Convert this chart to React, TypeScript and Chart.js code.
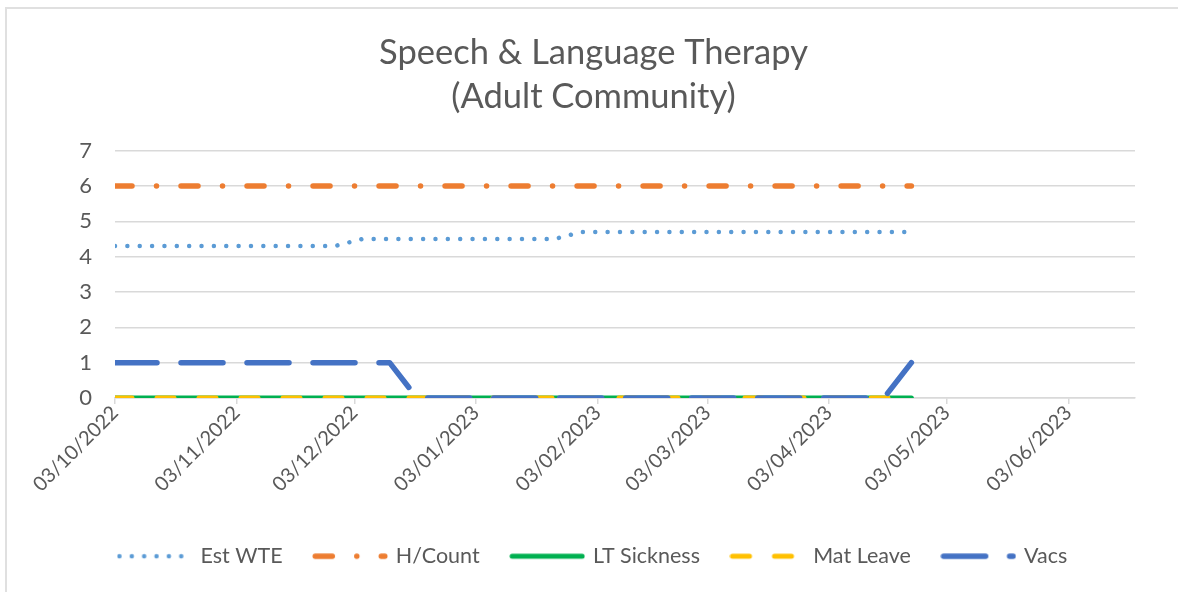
import React, { useEffect, useRef } from 'react';
import { Chart, registerables } from 'chart.js';

Chart.register(...registerables);

// ---- Data ----
const weekDates = [
  '2022-10-03', '2022-10-10', '2022-10-17', '2022-10-24', '2022-10-31',
  '2022-11-07', '2022-11-14', '2022-11-21', '2022-11-28', '2022-12-05',
  '2022-12-12', '2022-12-19', '2022-12-26', '2023-01-02', '2023-01-09',
  '2023-01-16', '2023-01-23', '2023-01-30', '2023-02-06', '2023-02-13',
  '2023-02-20', '2023-02-27', '2023-03-06', '2023-03-13', '2023-03-20',
  '2023-03-27', '2023-04-03', '2023-04-10', '2023-04-17', '2023-04-24',
];

const estWTE = [
  4.3, 4.3, 4.3, 4.3, 4.3, 4.3, 4.3, 4.3, 4.3, 4.5,
  4.5, 4.5, 4.5, 4.5, 4.5, 4.5, 4.5, 4.7, 4.7, 4.7,
  4.7, 4.7, 4.7, 4.7, 4.7, 4.7, 4.7, 4.7, 4.7, 4.7,
];
const hCount = [
  6, 6, 6, 6, 6, 6, 6, 6, 6, 6,
  6, 6, 6, 6, 6, 6, 6, 6, 6, 6,
  6, 6, 6, 6, 6, 6, 6, 6, 6, 6,
];
const ltSickness = [
  0, 0, 0, 0, 0, 0, 0, 0, 0, 0,
  0, 0, 0, 0, 0, 0, 0, 0, 0, 0,
  0, 0, 0, 0, 0, 0, 0, 0, 0, 0,
];
const matLeave = [
  0, 0, 0, 0, 0, 0, 0, 0, 0, 0,
  0, 0, 0, 0, 0, 0, 0, 0, 0, 0,
  0, 0, 0, 0, 0, 0, 0, 0, 0, 0,
];
const vacs = [
  1, 1, 1, 1, 1, 1, 1, 1, 1, 1,
  1, 0, 0, 0, 0, 0, 0, 0, 0, 0,
  0, 0, 0, 0, 0, 0, 0, 0, 0, 1,
];

const monthTickDates = [
  '2022-10-03', '2022-11-03', '2022-12-03', '2023-01-03', '2023-02-03',
  '2023-03-03', '2023-04-03', '2023-05-03', '2023-06-03',
];
const axisStartDate = '2022-10-03';
const axisEndDate = '2023-06-20';
const yMin = 0;
const yMax = 7;
const yStep = 1;

const titleLines = ['Speech & Language Therapy', '(Adult Community)'];

// ---- helpers ----
const DAY_MS = 86400000;
const dayIndex = (s: string) =>
  Math.round((Date.parse(s + 'T00:00:00Z') - Date.parse(axisStartDate + 'T00:00:00Z')) / DAY_MS);
const formatDate = (s: string) => {
  const [y, m, d] = s.split('-');
  return `${d}/${m}/${y}`;
};
const tickLabelByDay: Record<number, string> = {};
monthTickDates.forEach((s) => {
  tickLabelByDay[dayIndex(s)] = formatDate(s);
});

const FONT = 'Lato';
const TEXT_COLOR = '#595959';
const GRID_COLOR = '#D9D9D9';

type SeriesStyle = {
  label: string;
  data: number[];
  color: string;
  width: number;
  dash: number[];
  order: number;
};

const series: SeriesStyle[] = [
  { label: 'Est WTE', data: estWTE, color: '#5B9BD5', width: 4.5, dash: [0.01, 12.35], order: 5 },
  { label: 'H/Count', data: hCount, color: '#ED7D31', width: 5.5, dash: [17, 24.5, 0.01, 24.5], order: 4 },
  { label: 'LT Sickness', data: ltSickness, color: '#00B050', width: 5, dash: [], order: 3 },
  { label: 'Mat Leave', data: matLeave, color: '#FFC000', width: 5, dash: [17, 25], order: 2 },
  { label: 'Vacs', data: vacs, color: '#4472C4', width: 5.5, dash: [42, 24], order: 1 },
];

const SAMPLE_W = 76;
const SAMPLE_H = 10;
const BOX_W = 70;

function makeSample(s: SeriesStyle): HTMLCanvasElement {
  const c = document.createElement('canvas');
  c.width = SAMPLE_W;
  c.height = SAMPLE_H;
  const ctx = c.getContext('2d')!;
  ctx.strokeStyle = s.color;
  ctx.lineWidth = s.width;
  ctx.lineCap = 'round';
  ctx.setLineDash(s.dash);
  ctx.beginPath();
  ctx.moveTo(s.width / 2 + 0.5, SAMPLE_H / 2);
  ctx.lineTo(SAMPLE_W - s.width / 2 - 0.5, SAMPLE_H / 2);
  ctx.stroke();
  return c;
}

export default function App() {
  const canvasRef = useRef<HTMLCanvasElement | null>(null);

  useEffect(() => {
    const canvas = canvasRef.current;
    if (!canvas) return;
    const samples = series.map(makeSample);

    const chart = new Chart(canvas, {
      type: 'line',
      data: {
        datasets: series.map((s) => ({
          label: s.label,
          data: s.data.map((v, i) => ({ x: dayIndex(weekDates[i]), y: v })),
          borderColor: s.color,
          backgroundColor: s.color,
          borderWidth: s.width,
          borderDash: s.dash,
          borderCapStyle: 'round' as const,
          borderJoinStyle: 'round' as const,
          pointRadius: 0,
          pointHoverRadius: 0,
          tension: 0,
          fill: false,
          order: s.order,
        })),
      },
      options: {
        animation: false,
        responsive: false,
        events: [],
        layout: { padding: { left: 52, right: 43, top: 0, bottom: 15 } },
        plugins: {
          title: {
            display: true,
            text: titleLines,
            color: TEXT_COLOR,
            font: { family: FONT, size: 34.5, weight: 'normal', lineHeight: 1.3 },
            padding: { top: 30, bottom: 31 },
          },
          legend: {
            display: true,
            position: 'bottom',
            labels: {
              usePointStyle: true,
              pointStyleWidth: BOX_W,
              padding: 32.5,
              color: TEXT_COLOR,
              font: { family: FONT, size: 21.5 },
              generateLabels: () =>
                series.map((s, i) => ({
                  text: s.label,
                  pointStyle: samples[i],
                  fillStyle: 'rgba(0,0,0,0)',
                  strokeStyle: 'rgba(0,0,0,0)',
                  lineWidth: 0,
                  hidden: false,
                  datasetIndex: i,
                  fontColor: TEXT_COLOR,
                })),
            },
          },
          tooltip: { enabled: false },
        },
        scales: {
          x: {
            type: 'linear',
            min: dayIndex(axisStartDate),
            max: dayIndex(axisEndDate),
            afterBuildTicks: (scale: any) => {
              scale.ticks = monthTickDates.map((s) => ({ value: dayIndex(s) }));
            },
            afterFit: (scale: any) => {
              scale.height = 115;
            },
            ticks: {
              autoSkip: false,
              minRotation: 45,
              maxRotation: 45,
              padding: -3,
              color: TEXT_COLOR,
              font: { family: FONT, size: 20 },
              callback: (v: any) => tickLabelByDay[Number(v)] ?? '',
            },
            grid: {
              display: true,
              drawOnChartArea: false,
              drawTicks: true,
              tickLength: 6,
              color: GRID_COLOR,
              lineWidth: 1.5,
            },
            border: { display: true, color: GRID_COLOR, width: 1.5 },
          },
          y: {
            min: yMin,
            max: yMax,
            afterFit: (scale: any) => {
              scale.width = 63;
            },
            ticks: {
              stepSize: yStep,
              padding: 23,
              color: TEXT_COLOR,
              font: { family: FONT, size: 22 },
            },
            grid: {
              display: true,
              drawTicks: false,
              color: GRID_COLOR,
              lineWidth: 1.5,
            },
            border: { display: false },
          },
        },
      },
    } as any);

    return () => {
      chart.destroy();
    };
  }, []);

  return (
    <div
      style={{
        position: 'fixed',
        left: 0,
        top: 0,
        width: 1178,
        height: 592,
        background: '#ffffff',
        overflow: 'hidden',
      }}
    >
      <div
        style={{
          position: 'absolute',
          left: 5,
          top: 7,
          right: 0,
          bottom: 0,
          borderTop: '2px solid #E0E0E0',
          borderLeft: '2px solid #E0E0E0',
        }}
      />
      <canvas
        ref={canvasRef}
        width={1178}
        height={592}
        style={{ position: 'absolute', left: 0, top: 0, width: 1178, height: 592 }}
      />
    </div>
  );
}
